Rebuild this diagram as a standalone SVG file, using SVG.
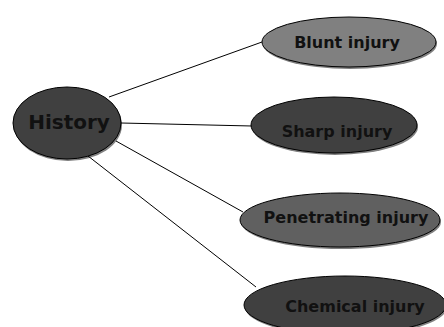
<svg xmlns="http://www.w3.org/2000/svg" width="444" height="327" viewBox="0 0 444 327">
<style>
.n{stroke:#000;stroke-width:1}
.t{font-family:"DejaVu Sans",Verdana,sans-serif;font-weight:bold;fill:#111;text-anchor:middle;dominant-baseline:central}
.s{fill:#000;opacity:0.5}
.c{stroke:#000;stroke-width:1;fill:none}
</style>
<rect width="444" height="327" fill="#fff"/>
<g id="connectors">
<line class="c" x1="109" y1="97" x2="262" y2="42"/>
<line class="c" x1="121" y1="123" x2="252" y2="126"/>
<line class="c" x1="116" y1="141" x2="243" y2="212"/>
<line class="c" x1="88" y1="156" x2="256" y2="287"/>
</g>
<g id="history">
<ellipse class="s" cx="68" cy="125" rx="54" ry="36"/>
<ellipse class="n" cx="67" cy="123" rx="54" ry="36" fill="#404040"/>
<text class="t" x="69" y="122" font-size="20">History</text>
</g>
<g id="blunt">
<ellipse class="s" cx="350" cy="44" rx="87" ry="25"/>
<ellipse class="n" cx="349" cy="42" rx="87" ry="25" fill="#808080"/>
<text class="t" x="347" y="42" font-size="16">Blunt injury</text>
</g>
<g id="sharp">
<ellipse class="s" cx="335" cy="127" rx="83" ry="28"/>
<ellipse class="n" cx="334" cy="125" rx="83" ry="28" fill="#404040"/>
<text class="t" x="337" y="131" font-size="16">Sharp injury</text>
</g>
<g id="penetrating">
<ellipse class="s" cx="341" cy="222" rx="100" ry="27"/>
<ellipse class="n" cx="340" cy="220" rx="100" ry="27" fill="#606060"/>
<text class="t" x="346" y="217" font-size="16">Penetrating injury</text>
</g>
<g id="chemical">
<ellipse class="s" cx="346" cy="307" rx="101" ry="29"/>
<ellipse class="n" cx="345" cy="305" rx="101" ry="29" fill="#404040"/>
<text class="t" x="355" y="306" font-size="16">Chemical injury</text>
</g>
</svg>
